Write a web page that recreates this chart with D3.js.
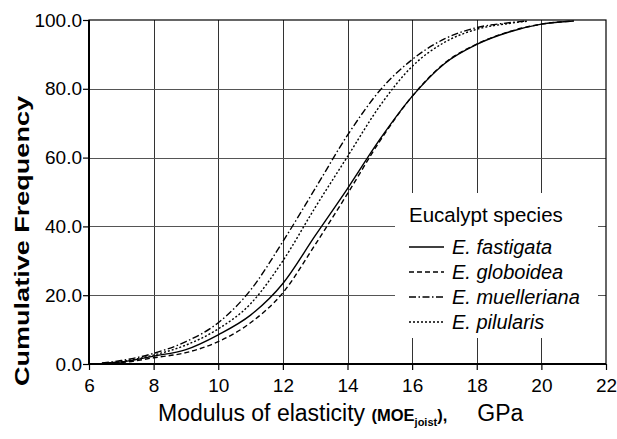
<!DOCTYPE html>
<html>
<head>
<meta charset="utf-8">
<script src="https://cdn.jsdelivr.net/npm/d3@7"></script>
<style>
  body { margin: 0; background: #fff; }
  text { font-family: "Liberation Sans", Arial, sans-serif; fill: #000; }
</style>
</head>
<body>
<div id="chart"></div>
<script>
// cumulative frequency (%) against MOE (GPa)
const fastigata = [[6.4,0.2],[7,0.6],[8,2.3],[9,4.2],[10,8.5],[11,14.2],[12,23.4],[13,37.3],[14,51],[15,65.3],[16,77.8],[17,87.3],[18,92.9],[19,96.5],[20,98.8],[21,99.7]];
const globoidea = [[6.5,0.2],[7,0.4],[8,1.8],[9,3.3],[10,6.5],[11,12],[12,20.7],[13,34.7],[14,49.5],[15,64.8],[16,77.8],[17,87.4],[18,93],[19,96.6],[20,98.8],[21,99.7]];
const muelleriana = [[6.4,0.3],[7,1],[8,3.1],[9,6.5],[10,12],[11,21.5],[12,35.6],[13,51],[14,66.5],[15,79.5],[16,88.5],[17,94.5],[18,97.8],[19,99.2],[19.5,99.7]];
const pilularis = [[6.5,0.2],[7,0.7],[8,2.6],[9,5.5],[10,10.2],[11,17.5],[12,30],[13,45.5],[14,60.3],[15,75],[16,86.5],[17,93.5],[18,97.3],[19,99],[19.6,99.7]];

const speciesNames = ["E. fastigata", "E. globoidea", "E. muelleriana", "E. pilularis"];
const xTicks = [6, 8, 10, 12, 14, 16, 18, 20, 22];
const yTicks = [0, 20, 40, 60, 80, 100];

const series = [fastigata, globoidea, muelleriana, pilularis];
const dashes = ["none", "5,3", "7,2.5,1.5,2.5", "2,2"];

const W = 617, H = 439;
const margin = {top: 20, right: 11, bottom: 75, left: 89};

const svg = d3.select("#chart").append("svg")
  .attr("width", W)
  .attr("height", H);

const x = d3.scaleLinear().domain([6, 22]).range([margin.left, W - margin.right]);
const y = d3.scaleLinear().domain([0, 100]).range([H - margin.bottom, margin.top]);

// grid
svg.append("g")
  .selectAll("line")
  .data(xTicks.slice(1, -1))
  .enter().append("line")
  .attr("x1", d => Math.round(x(d)) + 0.5)
  .attr("x2", d => Math.round(x(d)) + 0.5)
  .attr("y1", y(0))
  .attr("y2", y(100))
  .style("stroke", "#333")
  .style("stroke-width", 1);

svg.append("g")
  .selectAll("line")
  .data(yTicks.slice(1, -1))
  .enter().append("line")
  .attr("x1", x(6))
  .attr("x2", x(22))
  .attr("y1", d => Math.round(y(d)) + 0.5)
  .attr("y2", d => Math.round(y(d)) + 0.5)
  .style("stroke", "#555")
  .style("stroke-width", 1);

// frame
svg.append("rect")
  .attr("x", x(6))
  .attr("y", y(100))
  .attr("width", x(22) - x(6))
  .attr("height", y(0) - y(100))
  .style("fill", "none")
  .style("stroke", "#000")
  .style("stroke-width", 1.2);

svg.append("line")
  .attr("x1", x(6)).attr("x2", x(6))
  .attr("y1", y(0)).attr("y2", y(100))
  .style("stroke", "#000").style("stroke-width", 2);
svg.append("line")
  .attr("x1", x(6)).attr("x2", x(22))
  .attr("y1", y(0)).attr("y2", y(0))
  .style("stroke", "#000").style("stroke-width", 2);

// legend background hides the grid
svg.append("rect")
  .attr("x", 395)
  .attr("y", 193)
  .attr("width", 203)
  .attr("height", 145)
  .style("fill", "#fff");

// axes
const xAxis = d3.axisBottom(x).tickValues(xTicks).tickSize(6).tickFormat(d3.format("d"));
const yAxis = d3.axisLeft(y).tickValues(yTicks).tickSize(6).tickFormat(d3.format(".1f"));

const gx = svg.append("g")
  .attr("transform", "translate(0," + y(0) + ")")
  .call(xAxis);
gx.select(".domain").remove();
gx.selectAll(".tick line").style("stroke", "#000").style("stroke-width", 1.2);
gx.selectAll(".tick text")
  .attr("y", 15)
  .attr("dy", "0.71em")
  .style("font-size", "19px")
  .style("font-family", "'Liberation Sans', Arial, sans-serif");

const gy = svg.append("g")
  .attr("transform", "translate(" + x(6) + ",0)")
  .call(yAxis);
gy.select(".domain").remove();
gy.selectAll(".tick line").style("stroke", "#000").style("stroke-width", 1.2);
gy.selectAll(".tick text")
  .attr("x", -7)
  .style("font-size", "19px")
  .style("font-family", "'Liberation Sans', Arial, sans-serif");

// curves
const line = d3.line()
  .x(d => x(d[0]))
  .y(d => y(d[1]))
  .curve(d3.curveMonotoneX);

svg.append("g")
  .selectAll("path")
  .data(series)
  .enter().append("path")
  .attr("d", line)
  .style("fill", "none")
  .style("stroke", "#000")
  .style("stroke-width", 1.4)
  .style("stroke-dasharray", (d, i) => dashes[i]);

// legend
const legend = svg.append("g").attr("transform", "translate(409,0)");

legend.append("text")
  .attr("x", 0)
  .attr("y", 222)
  .style("font-size", "20.5px")
  .text("Eucalypt species");

const items = legend.selectAll("g.item")
  .data(speciesNames)
  .enter().append("g")
  .attr("class", "item")
  .attr("transform", (d, i) => "translate(0," + (247 + i * 25) + ")");

items.append("line")
  .attr("x1", 0).attr("x2", 35)
  .attr("y1", 0).attr("y2", 0)
  .style("stroke", "#000")
  .style("stroke-width", 1.4)
  .style("stroke-dasharray", (d, i) => dashes[i]);

items.append("text")
  .attr("x", 43)
  .attr("y", 7)
  .style("font-size", "20px")
  .style("font-style", "italic")
  .text(d => d);

// axis titles
svg.append("text")
  .attr("transform", "translate(29,241) rotate(-90)")
  .attr("text-anchor", "middle")
  .attr("textLength", 290)
  .attr("lengthAdjust", "spacingAndGlyphs")
  .style("font-size", "21px")
  .style("font-weight", "bold")
  .text("Cumulative Frequency");

const xt = svg.append("text")
  .attr("x", 158)
  .attr("y", 421)
  .style("font-size", "23px");
xt.append("tspan").text("Modulus of elasticity ");
xt.append("tspan").style("font-weight", "bold").style("font-size", "16.5px").text("(MOE");
xt.append("tspan").style("font-weight", "bold").style("font-size", "11px").attr("dy", 5).text("joist");
xt.append("tspan").style("font-weight", "bold").style("font-size", "16.5px").attr("dy", -5).text("),");
xt.append("tspan").attr("dx", 30).text("GPa");
</script>
</body>
</html>
